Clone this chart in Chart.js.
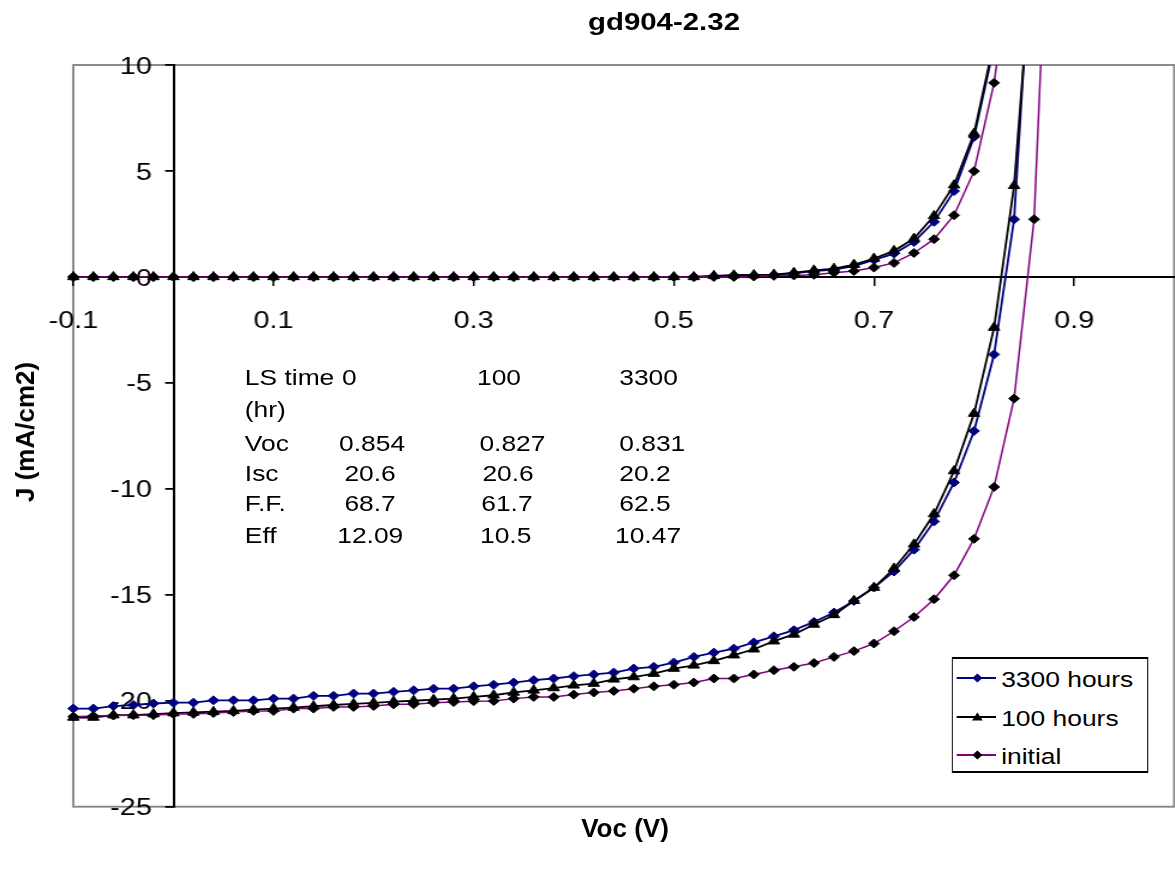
<!DOCTYPE html>
<html lang="en">
<head>
<meta charset="utf-8">
<title>gd904-2.32</title>
<script src="https://cdn.jsdelivr.net/npm/chart.js@4.4.1/dist/chart.umd.min.js"></script>
<style>
	html, body { margin: 0; padding: 0; width: 1175px; height: 871px; overflow: hidden; background: #fff; }
	body { position: relative; font-family: 'Liberation Sans', Arial, sans-serif; color: #000; }
	/* the original picture is stretched sideways, so the whole drawing is too */
	#stage { position: absolute; left: 0; top: 0; width: 985px; height: 871px; transform: scaleX(1.2); transform-origin: 0 0; }
	#chart { position: absolute; left: 0; top: 0; }
	.t { position: absolute; white-space: nowrap; font-size: 22px; line-height: 22px; }
	#title { font-weight: bold; font-size: 24.5px; line-height: 24.5px; }
	#legend { position: absolute; left: 793px; top: 656.7px; width: 161.5px; height: 112px; border-style: solid; border-color: #000; border-width: 2px 1.7px; background: #fff; }
	#legend svg { position: absolute; left: 2.5px; }
	.axt { position: absolute; white-space: nowrap; font-weight: bold; font-size: 26px; line-height: 26px; }
	#ytitle { left: 25px; top: 432px; transform: translate(-50%, -50%) rotate(-90deg); }
	#xtitle { left: 625px; top: 828px; transform: translate(-50%, -50%); }
</style>
</head>
<body>
<div id="stage">
	<canvas id="chart" width="985" height="871"></canvas>
	<div id="title" class="t" style="left:490px; top:9.9px">gd904-2.32</div>
	<div id="table"></div>
	<div id="legend"></div>
</div>
<div id="ytitle" class="axt">J (mA/cm2)</div>
<div id="xtitle" class="axt">Voc (V)</div>
<script>
// gd904-2.32 — J-V curves, dark and light, after light soaking

const voltage = [
	-0.10, -0.08, -0.06, -0.04, -0.02, 0.00, 0.02, 0.04, 0.06, 0.08,
	0.10, 0.12, 0.14, 0.16, 0.18, 0.20, 0.22, 0.24, 0.26, 0.28,
	0.30, 0.32, 0.34, 0.36, 0.38, 0.40, 0.42, 0.44, 0.46, 0.48,
	0.50, 0.52, 0.54, 0.56, 0.58, 0.60, 0.62, 0.64, 0.66, 0.68,
	0.70, 0.72, 0.74, 0.76, 0.78, 0.80, 0.82, 0.84, 0.86, 0.88
];

// dark branch (upper curves)
const dark3300 = [
	0, 0, 0, 0, 0, 0, 0, 0, 0, 0,
	0, 0, 0, 0, 0, 0, 0, 0, 0, 0,
	0, 0, 0, 0, 0, 0, 0, 0, 0, 0,
	0, 0, 0.04, 0.07, 0.08, 0.10, 0.17, 0.27, 0.34, 0.51,
	0.80, 1.10, 1.65, 2.60, 4.05, 6.60, 10.9
];
const dark100 = [
	0, 0, 0, 0, 0, 0, 0, 0, 0, 0,
	0, 0, 0, 0, 0, 0, 0, 0, 0, 0,
	0, 0, 0, 0, 0, 0, 0, 0, 0, 0,
	0, 0, 0.05, 0.08, 0.09, 0.11, 0.20, 0.31, 0.39, 0.58,
	0.87, 1.23, 1.81, 2.88, 4.33, 6.77, 11.1
];
const darkInitial = [
	0, 0, 0, 0, 0, 0, 0, 0, 0, 0,
	0, 0, 0, 0, 0, 0, 0, 0, 0, 0,
	0, 0, 0, 0, 0, 0, 0, 0, 0, 0,
	0, 0, 0, 0, 0.02, 0.05, 0.07, 0.10, 0.20, 0.28,
	0.44, 0.66, 1.13, 1.78, 2.91, 4.99, 9.16, 16.0
];

// light branch (lower curves)
const light3300 = [
	-20.37, -20.37, -20.25, -20.20, -20.13, -20.09, -20.09, -19.98, -19.98, -19.98,
	-19.90, -19.90, -19.77, -19.77, -19.66, -19.66, -19.58, -19.51, -19.43, -19.43,
	-19.32, -19.24, -19.14, -19.03, -18.95, -18.84, -18.76, -18.67, -18.48, -18.40,
	-18.20, -17.93, -17.73, -17.54, -17.25, -16.96, -16.67, -16.28, -15.84, -15.29,
	-14.66, -13.90, -12.87, -11.54, -9.70, -7.27, -3.66, 2.72, 18.0
];
const light100 = [
	-20.79, -20.79, -20.68, -20.68, -20.63, -20.58, -20.55, -20.52, -20.48, -20.42,
	-20.37, -20.32, -20.26, -20.20, -20.15, -20.10, -20.04, -20.00, -19.95, -19.90,
	-19.82, -19.74, -19.61, -19.51, -19.40, -19.27, -19.19, -18.99, -18.88, -18.72,
	-18.48, -18.33, -18.12, -17.85, -17.57, -17.19, -16.87, -16.40, -15.95, -15.28,
	-14.66, -13.76, -12.62, -11.19, -9.16, -6.45, -2.39, 4.30, 16.5
];
const lightInitial = [
	-20.75, -20.72, -20.70, -20.68, -20.68, -20.62, -20.62, -20.58, -20.53, -20.48,
	-20.48, -20.37, -20.37, -20.29, -20.29, -20.25, -20.17, -20.17, -20.09, -20.06,
	-20.02, -20.01, -19.90, -19.82, -19.82, -19.71, -19.61, -19.54, -19.43, -19.32,
	-19.24, -19.14, -18.95, -18.95, -18.76, -18.56, -18.40, -18.22, -17.93, -17.66,
	-17.30, -16.72, -16.05, -15.21, -14.08, -12.36, -9.91, -5.74, 2.72, 24.7
];

const xTickValues = [-0.1, 0.1, 0.3, 0.5, 0.7, 0.9];
const yTickValues = [-25, -20, -15, -10, -5, 0, 5, 10];

// summary table written inside the plot
const tableHeader = ['LS time', '0', '100', '3300'];
const tableUnit = ['(hr)'];
const tableVoc = ['Voc', '0.854', '0.827', '0.831'];
const tableIsc = ['Isc', '20.6', '20.6', '20.2'];
const tableFF = ['F.F.', '68.7', '61.7', '62.5'];
const tableEff = ['Eff', '12.09', '10.5', '10.47'];

const FONT = "'Liberation Sans', Arial, sans-serif";
const Y_TICK_LEN = 6.4, Y_TICK_PAD = 11.6;

const SERIES = [
	{ name: '3300 hours', line: '#000080', marker: '#000080', style: 'rectRot', r: 4.5, dark: dark3300, light: light3300, width: 1.8 },
	{ name: '100 hours', line: '#000000', marker: '#000000', style: 'triangle', r: 5.5, dark: dark100, light: light100, width: 1.8 },
	{ name: 'initial', line: '#800080', marker: '#000000', style: 'rectRot', r: 4.5, dark: darkInitial, light: lightInitial, width: 1.5 }
];

const pts = ys => ys.map((y, i) => ({ x: voltage[i], y }));

function _dataset(s, ys, branch) {
	return {
		label: s.name + ' ' + branch,
		data: pts(ys),
		showLine: true,
		borderColor: s.line,
		borderWidth: s.width,
		backgroundColor: s.marker,
		pointStyle: s.style,
		pointRadius: s.r,
		pointBackgroundColor: s.marker,
		pointBorderColor: s.marker,
		pointBorderWidth: 1,
		tension: 0,
		clip: { left: 8, top: 0, right: 0, bottom: 0 }
	};
}

// initial on top, as in the original
const datasets = [];
SERIES.slice().reverse().forEach(s => {
	datasets.push(_dataset(s, s.light, 'light'), _dataset(s, s.dark, 'dark'));
});

// grey frame round the plot area
const frame = {
	id: 'frame',
	beforeDraw(chart) {
		const { ctx, chartArea: a } = chart;
		ctx.save();
		ctx.strokeStyle = '#808080';
		ctx.lineWidth = 1.8;
		ctx.strokeRect(a.left, a.top, a.right - a.left, a.bottom - a.top);
		ctx.restore();
	}
};

// a y axis placed at x = 0 ignores ticks.padding, so move its labels off the line
const yLabelGap = {
	id: 'yLabelGap',
	beforeDraw(chart) {
		const x0 = chart.scales.x.getPixelForValue(0);
		chart.scales.y.getLabelItems().forEach(it => {
			it.options.translation[0] = x0 - Y_TICK_LEN - Y_TICK_PAD;
			if (!it._moved) { it.options.translation[1] += 2; it._moved = true; }
		});
	}
};

new Chart(document.getElementById('chart'), {
	type: 'scatter',
	data: { datasets },
	plugins: [frame, yLabelGap],
	options: {
		responsive: false,
		animation: false,
		layout: { padding: { left: 61.1, top: 65, right: 0, bottom: 64.3 } },
		plugins: { legend: { display: false }, tooltip: { enabled: false }, title: { display: false } },
		scales: {
			x: {
				type: 'linear', min: -0.1, max: 1.0, position: { y: 0 },
				afterBuildTicks: s => { s.ticks = xTickValues.map(v => ({ value: v })); },
				ticks: { color: '#000', font: { family: FONT, size: 24 }, padding: 22, maxRotation: 0, autoSkip: false, callback: v => v.toFixed(1) },
				grid: { drawOnChartArea: false, drawTicks: true, tickLength: 8, color: '#000', lineWidth: 1.5 },
				border: { display: true, color: '#000', width: 2 }
			},
			y: {
				type: 'linear', min: -25, max: 10, position: { x: 0 },
				afterBuildTicks: s => { s.ticks = yTickValues.map(v => ({ value: v })); },
				ticks: { color: '#000', font: { family: FONT, size: 24 }, padding: Y_TICK_PAD, callback: v => String(v) },
				grid: { drawOnChartArea: false, drawTicks: true, tickLength: Y_TICK_LEN, color: '#000', lineWidth: 1.8 },
				border: { display: true, color: '#000', width: 2 }
			}
		}
	}
});

//  Table text 
const tableRows = [tableHeader, tableUnit, tableVoc, tableIsc, tableFF, tableEff];
const rowTops = [367.1, 398.6, 433.3, 462.9, 493.3, 525.1];
const cellLefts = [
	[204, 285, 397.5, 516],
	[204],
	[204, 282.5, 399.5, 516],
	[204, 287, 402, 516],
	[204, 287, 401, 516],
	[204, 281, 400, 512.5]
];
document.getElementById('table').innerHTML = tableRows.map((row, r) =>
	row.map((txt, c) => `<div class="t" style="left:${cellLefts[r][c]}px; top:${rowTops[r]}px">${txt}</div>`).join('')
).join('');

//  Legend 
const rowY = [19.6, 58.6, 96.3];
function _marker(s) {
	if (s.style === 'triangle') return `<polygon points="13,11.5 17.5,3.5 22,11.5" fill="${s.marker}"/>`;
	return `<polygon points="13.3,8 17.5,3.5 21.7,8 17.5,12.5" fill="${s.marker}"/>`;
}
document.getElementById('legend').innerHTML = SERIES.map((s, i) => `
	<svg width="33" height="16" style="top:${rowY[i] - 8}px"><line x1="0" y1="8" x2="33" y2="8" stroke="${s.line}" stroke-width="2"/>${_marker(s)}</svg>
	<div class="t" style="left:40.3px; top:${rowY[i] - 9.4}px">${s.name}</div>
`).join('');
</script>
</body>
</html>
